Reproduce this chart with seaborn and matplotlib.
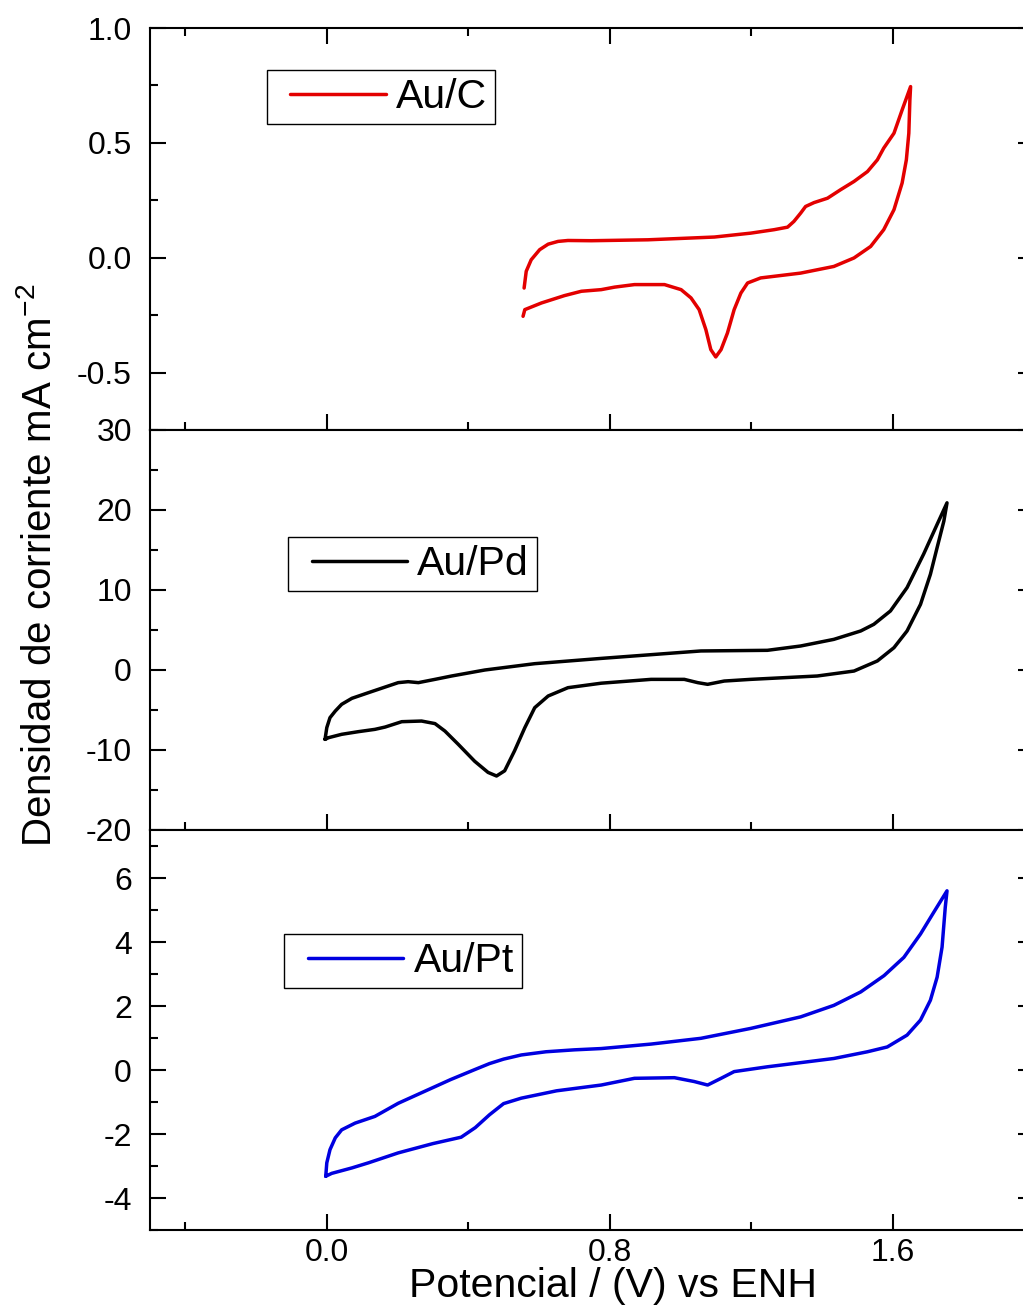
import matplotlib.pyplot as plt
import numpy as np
import pandas as pd
import seaborn as sns
from matplotlib.legend_handler import HandlerLine2D
from matplotlib.ticker import MultipleLocator

# Au/C voltammogram (anodic sweep, then cathodic sweep back)
auc_E = [0.558, 0.564, 0.578, 0.602, 0.626, 0.654, 0.682, 0.748, 0.908, 1.096,
         1.199, 1.265, 1.303, 1.321, 1.340, 1.354, 1.378, 1.416, 1.453, 1.491,
         1.529, 1.557, 1.575, 1.604, 1.627, 1.651,
         1.649, 1.646, 1.639, 1.627, 1.604, 1.575, 1.538, 1.491, 1.434, 1.340,
         1.227, 1.190, 1.171, 1.152, 1.133, 1.115, 1.100, 1.086, 1.072, 1.053,
         1.030, 1.002, 0.955, 0.870, 0.814, 0.776, 0.720, 0.672, 0.607, 0.560,
         0.555]
auc_j = [-0.132, -0.059, -0.009, 0.035, 0.059, 0.071, 0.075, 0.074, 0.078, 0.090,
         0.107, 0.122, 0.133, 0.158, 0.194, 0.223, 0.240, 0.259, 0.296, 0.332,
         0.375, 0.426, 0.477, 0.542, 0.643, 0.745,
         0.687, 0.542, 0.426, 0.325, 0.209, 0.122, 0.049, -0.001, -0.038, -0.067,
         -0.088, -0.110, -0.154, -0.226, -0.328, -0.400, -0.432, -0.400, -0.313, -0.226,
         -0.175, -0.139, -0.117, -0.117, -0.128, -0.139, -0.146, -0.165, -0.197, -0.226,
         -0.255]

# Au/Pd voltammogram
aupd_E = [-0.005, 0.0, 0.009, 0.024, 0.042, 0.071, 0.118, 0.165, 0.202, 0.230,
          0.259, 0.306, 0.353, 0.447, 0.588, 0.776, 1.058, 1.246, 1.340, 1.434,
          1.510, 1.547, 1.594, 1.641, 1.688, 1.726, 1.754,
          1.745, 1.726, 1.707, 1.679, 1.641, 1.604, 1.557, 1.491, 1.387, 1.199,
          1.124, 1.077, 1.049, 1.011, 0.917, 0.776, 0.682, 0.626, 0.588, 0.560,
          0.531, 0.503, 0.480, 0.456, 0.418, 0.372, 0.334, 0.306, 0.268, 0.212,
          0.165, 0.136, 0.089, 0.042, 0.005, -0.005]
aupd_j = [-8.67, -7.2, -5.96, -5.13, -4.29, -3.54, -2.83, -2.13, -1.58, -1.46,
          -1.58, -1.17, -0.75, 0.0, 0.79, 1.45, 2.38, 2.46, 3.0, 3.83,
          4.88, 5.71, 7.38, 10.3, 14.5, 18.2, 20.9,
          18.6, 15.3, 11.96, 8.2, 4.88, 2.79, 1.13, -0.13, -0.75, -1.17,
          -1.38, -1.79, -1.58, -1.17, -1.17, -1.65, -2.21, -3.25, -4.71, -7.21,
          -10.1, -12.6, -13.25, -12.8, -11.4, -9.3, -7.63, -6.7, -6.38, -6.46,
          -7.13, -7.42, -7.71, -8.04, -8.46, -8.67]

# Au/Pt voltammogram
aupt_E = [-0.003, 0.0, 0.009, 0.024, 0.042, 0.080, 0.136, 0.202, 0.280, 0.350,
          0.420, 0.460, 0.500, 0.550, 0.620, 0.700, 0.776, 0.917, 1.058, 1.199,
          1.340, 1.434, 1.510, 1.576, 1.632, 1.679, 1.716, 1.754,
          1.749, 1.740, 1.726, 1.707, 1.679, 1.641, 1.585, 1.529, 1.434, 1.246,
          1.152, 1.115, 1.077, 1.039, 0.983, 0.870, 0.776, 0.650, 0.550, 0.500,
          0.460, 0.420, 0.380, 0.300, 0.202, 0.118, 0.071, 0.014, -0.003]
aupt_j = [-3.32, -2.9, -2.49, -2.12, -1.87, -1.66, -1.45, -1.04, -0.65, -0.30,
          0.02, 0.20, 0.34, 0.47, 0.57, 0.63, 0.67, 0.81, 0.99, 1.30,
          1.66, 2.02, 2.44, 2.95, 3.52, 4.25, 4.92, 5.60,
          5.08, 3.84, 2.90, 2.18, 1.56, 1.09, 0.72, 0.57, 0.36, 0.10,
          -0.05, -0.26, -0.47, -0.36, -0.24, -0.26, -0.47, -0.65, -0.88, -1.05,
          -1.40, -1.80, -2.10, -2.30, -2.59, -2.90, -3.06, -3.23, -3.32]

labels = ['Au/C', 'Au/Pd', 'Au/Pt']
colors = ['#e30000', 'black', '#0000e0']
ylims = [(-0.75, 1.0), (-20, 30), (-5, 7.5)]
ymajor = [0.5, 10, 2]
legend_pos = [(0.132, 0.896), (0.156, 0.7325), (0.152, 0.74)]

sns.set_theme(style='ticks')
plt.rcParams['font.family'] = ['Liberation Sans', 'DejaVu Sans']
plt.rcParams['axes.unicode_minus'] = False
plt.rcParams['mathtext.fontset'] = 'custom'
plt.rcParams['mathtext.rm'] = 'Liberation Sans'
plt.rcParams['mathtext.it'] = 'Liberation Sans'
for k in ['text.color', 'axes.labelcolor', 'xtick.color', 'ytick.color']:
    plt.rcParams[k] = 'black'

W, H = 1023, 1312
fig = plt.figure(figsize=(W / 100, H / 100), dpi=100)

# panel edges in pixels; the right spine sits just outside the picture
left, right = 150, 1034
panels = [(28, 430), (430, 830), (830, 1230)]

curves = [(auc_E, auc_j), (aupd_E, aupd_j), (aupt_E, aupt_j)]

for i, (top, bottom) in enumerate(panels):
    ax = fig.add_axes([left / W, 1 - bottom / H, (right - left) / W, (bottom - top) / H])
    E, j = curves[i]
    df = pd.DataFrame({'E': E, 'j': j})
    sns.lineplot(data=df, x='E', y='j', sort=False, estimator=None,
                 color=colors[i], lw=2.5, label=labels[i], ax=ax)
    ax.get_lines()[0].set_solid_joinstyle('round')

    ax.set_xlim(-0.5, 2.0)
    ax.set_ylim(*ylims[i])
    ax.xaxis.set_major_locator(MultipleLocator(0.8))
    ax.xaxis.set_minor_locator(MultipleLocator(0.4))
    ax.yaxis.set_major_locator(MultipleLocator(ymajor[i]))
    ax.yaxis.set_minor_locator(MultipleLocator(ymajor[i] / 2))
    ax.set_xlabel('')
    ax.set_ylabel('')

    for s in ax.spines.values():
        s.set_linewidth(1.5)
        s.set_color('black')

    ax.tick_params(which='both', direction='in', width=1.5, color='black',
                   top=(i == 0), right=True, bottom=True, left=True)
    ax.tick_params(which='major', length=11.5)
    ax.tick_params(which='minor', length=5.8)
    ax.tick_params(axis='y', labelsize=23, pad=13)
    ax.tick_params(axis='x', labelsize=23, pad=6)
    if i < 2:
        ax.tick_params(axis='x', labelbottom=False)
    else:
        ax.set_xticks([0.0, 0.8, 1.6])
        ax.set_xticklabels(['0.0', '0.8', '1.6'])
    if i == 0:
        ax.set_yticks([-0.5, 0.0, 0.5, 1.0])
        ax.set_yticklabels(['-0.5', '0.0', '0.5', '1.0'])

    ax.legend(loc='upper left', bbox_to_anchor=legend_pos[i], borderaxespad=0,
              fontsize=29.5, frameon=True, fancybox=False, edgecolor='black',
              framealpha=1, borderpad=0.2, handlelength=2.7, handletextpad=0.25,
              handler_map={plt.Line2D: HandlerLine2D(xpad=0.38)})
    ax.get_legend().get_frame().set_linewidth(1.0)

fig.text(40 / W, 1 - 565 / H, 'Densidad de corriente mA cm$^{-2}$',
         rotation=90, ha='center', va='center', fontsize=29)
fig.text(613 / W, (H - 1297) / H, 'Potencial / (V) vs ENH',
         ha='center', va='baseline', fontsize=29.5)

fig.savefig('out.png', dpi=100)
